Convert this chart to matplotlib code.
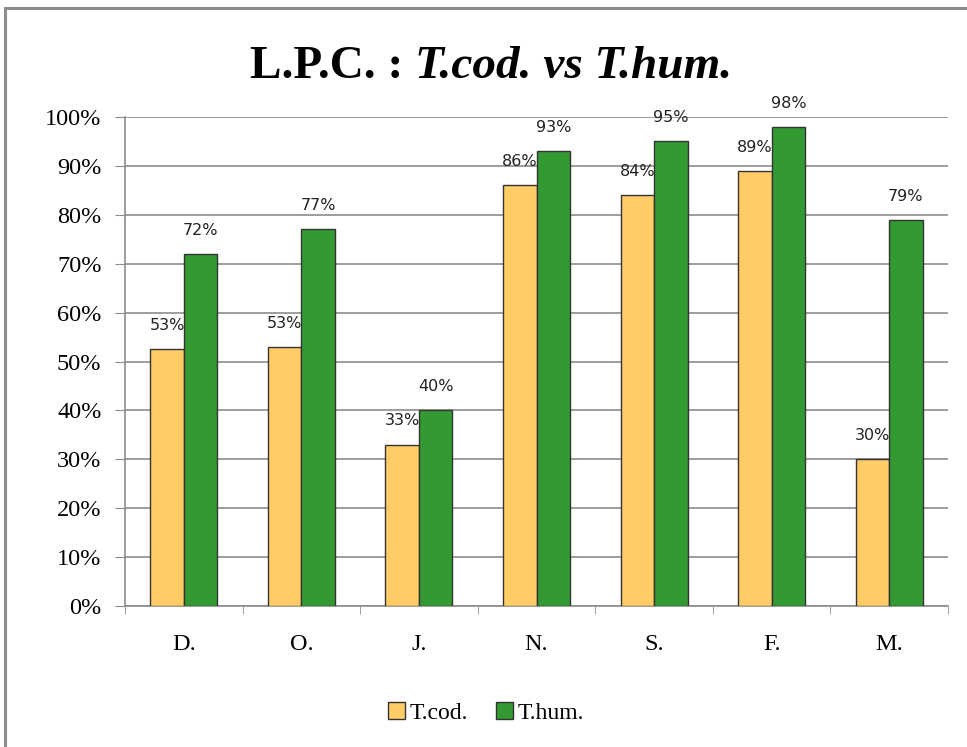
import matplotlib.pyplot as plt
import numpy as np
from matplotlib.patches import Rectangle

# data
categories = ["D.", "O.", "J.", "N.", "S.", "F.", "M."]
t_cod = [52.5, 53, 33, 86, 84, 89, 30]
t_hum = [72, 77, 40, 93, 95, 98, 79]
cod_labels = ["53%", "53%", "33%", "86%", "84%", "89%", "30%"]
hum_labels = ["72%", "77%", "40%", "93%", "95%", "98%", "79%"]

fig = plt.figure(figsize=(9.67, 7.47), dpi=100)
W, H = 967, 747
ax = fig.add_axes([125/W, 1-606/H, (948-125)/W, (606-117)/H])

# outer chart border
fig.patches.append(Rectangle((5/W, -0.1), 1.2, 1-8/H+0.1, transform=fig.transFigure,
                             fill=False, edgecolor="#8c8c8c", lw=2.2))

x = np.arange(len(categories))
bw = 0.285
ax.bar(x - bw/2, t_cod, bw, color="#FFCC66", edgecolor="#333333", lw=1, label="T.cod.", zorder=3)
ax.bar(x + bw/2, t_hum, bw, color="#339933", edgecolor="#333333", lw=1, label="T.hum.", zorder=3)

for i in range(len(categories)):
    ax.text(x[i] - bw/2, t_cod[i] + 3.3, cod_labels[i], ha="center", va="bottom",
            fontsize=11.5, family="DejaVu Sans", color="#222222", zorder=4)
    ax.text(x[i] + bw/2, t_hum[i] + 3.3, hum_labels[i], ha="center", va="bottom",
            fontsize=11.5, family="DejaVu Sans", color="#222222", zorder=4)

ax.set_xlim(-0.5, len(categories) - 0.5)
ax.set_ylim(0, 100)
ax.set_yticks(np.arange(0, 101, 10))
ax.set_yticklabels([f"{v}%" for v in range(0, 101, 10)], family="Liberation Serif", fontsize=17.5)
ax.yaxis.grid(True, color="#8c8c8c", lw=1.2, zorder=0)
ax.set_xticks(x)
ax.set_xticklabels(categories, family="Liberation Serif", fontsize=17.5)
ax.set_xticks(np.arange(-0.5, len(categories)), minor=True)
ax.tick_params(axis="x", which="major", length=0, pad=20)
ax.tick_params(axis="x", which="minor", length=6, color="#8c8c8c", direction="out")
ax.tick_params(axis="y", length=7, color="#8c8c8c", pad=10)
for s in ["top", "right"]:
    ax.spines[s].set_visible(False)
ax.spines["left"].set_color("#8c8c8c")
ax.spines["bottom"].set_color("#8c8c8c")
ax.spines["left"].set_linewidth(1.2)
ax.spines["bottom"].set_linewidth(1.2)

# title: bold part + bold italic part, centred together
fs_title = 34
t1 = fig.text(0, 1-78/H, "L.P.C. : ", family="Liberation Serif", weight="bold",
              fontsize=fs_title, ha="left", va="baseline")
t2 = fig.text(0, 1-78/H, "T.cod. vs T.hum.", family="Liberation Serif", weight="bold",
              style="italic", fontsize=fs_title, ha="left", va="baseline")
fig.canvas.draw()
w1 = t1.get_window_extent().width
w2 = t2.get_window_extent().width
x0 = 491 - (w1 + w2) / 2
t1.set_x(x0 / W)
t2.set_x((x0 + w1) / W)

leg = fig.legend(loc="center", bbox_to_anchor=(486/W, 1-713/H), ncol=2, frameon=False,
                 prop={"family": "Liberation Serif", "size": 17}, handlelength=0.7,
                 handleheight=0.7, handletextpad=0.2, columnspacing=1.2)

fig.savefig("out.png", dpi=100)
